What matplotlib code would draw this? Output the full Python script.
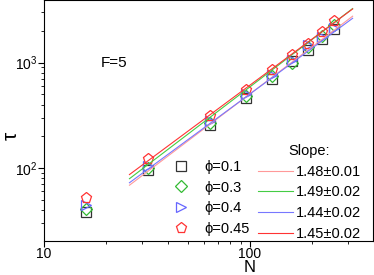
import numpy as np
import matplotlib
matplotlib.use("Agg")
import matplotlib.pyplot as plt

plt.rcParams['font.family'] = ['Liberation Sans', 'DejaVu Sans']
plt.rcParams['mathtext.fontset'] = 'custom'
plt.rcParams['mathtext.rm'] = 'Liberation Sans'

N = [16, 32, 64, 96, 128, 160, 192, 224, 256]
phi_labels = ["\u03d5=0.1", "\u03d5=0.3", "\u03d5=0.4", "\u03d5=0.45"]
tau_01 = [38.6, 96.5, 255, 460, 706, 1037, 1318, 1688, 2066]
tau_03 = [41, 100, 267, 484, 748, 1000, 1407, 1780, 2256]
tau_04 = [45, 105, 281, 501, 759, 1060, 1458, 1750, 2143]
tau_045 = [52, 123, 309, 551, 846, 1173, 1513, 1950, 2477]
slopes = [1.48, 1.49, 1.44, 1.45]
slope_labels = ["1.48\u00b10.01", "1.49\u00b10.02", "1.44\u00b10.02", "1.45\u00b10.02"]
amp_at_100 = [505, 590, 505, 612]
fit_range = [26, 315]

series = [tau_01, tau_03, tau_04, tau_045]
markers = ['s', 'D', '>', 'p']
mcolors = ['#333333', '#33bb33', '#6666ff', '#ff3333']
lcolors = ['#ff9999', '#44cc44', '#7777ff', '#ff3333']
msizes = [6.5, 6.0, 7.0, 8.0]

fig = plt.figure(figsize=(3.74, 2.75), dpi=100)
ax = fig.add_axes([0.1176, 0.125, 0.8794, 0.875])

mh = []
for y, m, c, ms, lab in zip(series, markers, mcolors, msizes, phi_labels):
    h, = ax.plot(N, y, linestyle='none', marker=m, markersize=ms,
                 markerfacecolor='none', markeredgecolor=c, markeredgewidth=0.9,
                 label=lab)
    mh.append(h)

xf = np.geomspace(fit_range[0], fit_range[1], 50)
lh = []
for s, a, c, lab in zip(slopes, amp_at_100, lcolors, slope_labels):
    h, = ax.plot(xf, a * (xf / 100.0) ** s, color=c, lw=0.8, label=lab)
    lh.append(h)

ax.set_xscale('log')
ax.set_yscale('log')
ax.set_xlim(10, 395)
ax.set_ylim(20.5, 3930)

ax.tick_params(axis='both', which='both', top=True, right=True)
ax.tick_params(axis='x', which='major', direction='out', length=4, width=0.8, labelsize=10, pad=0.5)
ax.tick_params(axis='x', which='minor', direction='out', length=2.5, width=0.6)
ax.tick_params(axis='y', which='major', direction='out', length=4, width=0.8, labelsize=10, pad=1)
ax.tick_params(axis='y', which='minor', direction='out', length=2.5, width=0.6)
ax.xaxis.set_major_formatter(matplotlib.ticker.FuncFormatter(lambda v, p: f"{int(round(v))}"))
ax.xaxis.set_minor_formatter(matplotlib.ticker.NullFormatter())
ax.yaxis.set_minor_formatter(matplotlib.ticker.NullFormatter())

ax.set_xlabel('N', fontsize=12)
ax.xaxis.label.set_verticalalignment('bottom')
ax.xaxis.set_label_coords(0.625, -0.141)
ax.set_ylabel('\u03c4', fontsize=15)
ax.yaxis.label.set_verticalalignment('center')
ax.yaxis.set_label_coords(-0.1, 0.434)

ax.text(18.9, 1000, 'F=5', fontsize=11, va='center', ha='left')

leg1 = ax.legend(handles=mh, loc='upper left', bbox_to_anchor=(0.395, 0.335),
                 frameon=False, fontsize=10.5, handlelength=1.0, handletextpad=1.1,
                 labelspacing=0.45, borderpad=0, borderaxespad=0)
ax.add_artist(leg1)
leg2 = ax.legend(handles=lh, loc='upper left', bbox_to_anchor=(0.65, 0.40),
                 frameon=False, fontsize=10.5, handlelength=2.4, handletextpad=0.2,
                 labelspacing=0.45, borderpad=0, borderaxespad=0,
                 title='Slope:', title_fontsize=10.5)

fig.savefig('out.png', dpi=100)
